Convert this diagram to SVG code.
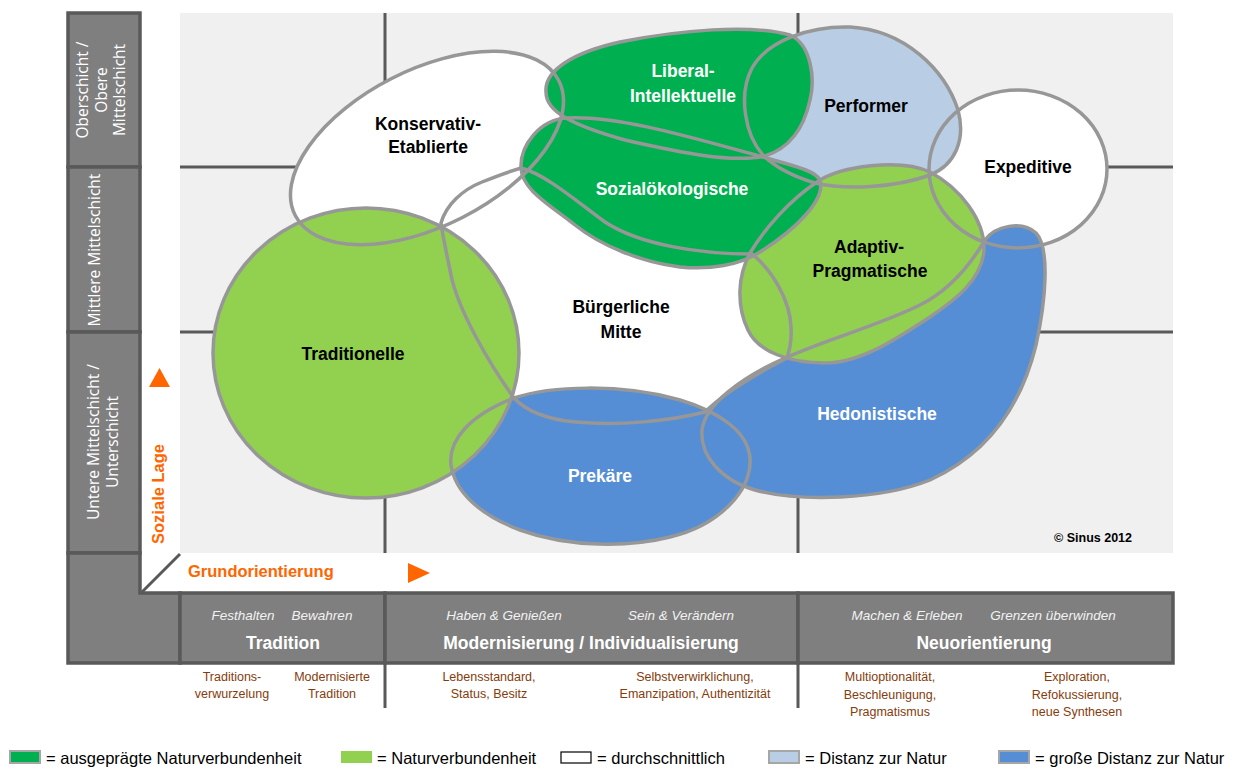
<svg xmlns="http://www.w3.org/2000/svg" width="1235" height="769" viewBox="0 0 1235 769">
<style>
.plot{fill:#f0f0f0}
.grid{stroke:#595959;stroke-width:3;fill:none}
.box{fill:#7f7f7f;stroke:#595959;stroke-width:3.5}
.ol{fill:none;stroke:#979797;stroke-width:3.5}
.dg{fill:#00b050}.lgr{fill:#92d050}.wh{fill:#ffffff}.lb{fill:#b9cde5}.bl{fill:#558ed5}
.lbl{font-family:"Liberation Sans",Arial,sans-serif;font-weight:bold;font-size:17.5px;text-anchor:middle}
.k{fill:#000}.w{fill:#fff}
.col{font-family:"Open Sans","Liberation Sans",sans-serif;font-size:15.5px;fill:#fff;text-anchor:middle}
.or{font-family:"Liberation Sans",Arial,sans-serif;font-weight:bold;font-size:16.5px;fill:#ff6600}
.it{font-family:"Liberation Sans",Arial,sans-serif;font-style:italic;font-size:13.5px;fill:#f2f2f2;text-anchor:middle}
.hd{font-family:"Liberation Sans",Arial,sans-serif;font-weight:bold;font-size:17.5px;fill:#fff;text-anchor:middle}
.br{font-family:"Liberation Sans",Arial,sans-serif;font-size:12.5px;fill:#843c0c;text-anchor:middle}
.lt{font-family:"Liberation Sans",Arial,sans-serif;font-size:16.5px;fill:#000}
.sw{stroke:#a6a6a6;stroke-width:2}
</style>
<defs>
<ellipse id="s-kon" cx="427" cy="148" rx="148" ry="78" transform="rotate(-27 427 148)"/>
<path id="s-bm" d="M441,223 C446,205 462,190 482,182 C497,176 511,171 521,168 C545,174 575,200 605,222 C640,245 700,254 752,254 C772,270 790,300 791,327 C792,342 789,352 787,358 C760,372 725,392 705,412 C670,421 620,426 575,422 C545,419 525,410 514,398 C490,365 458,310 451,275 C447,255 443,238 441,223 Z"/>
<ellipse id="s-exp" cx="1018" cy="169" rx="89" ry="79"/>
<path id="s-perf" d="M763,155 C745,135 738,95 752,68 C768,40 810,26 850,27 C905,30 945,70 958,110 C966,140 955,165 930,175 C895,188 845,190 815,183 C795,177 775,167 763,155 Z"/>
<path id="s-prek" d="M514,398 C550,386 620,383 680,400 C720,412 748,432 750,458 C752,490 720,525 670,537 C630,547 570,548 520,530 C480,515 455,492 451,465 C448,440 470,415 514,398 Z"/>
<path id="s-hed" d="M985,240 C995,226 1022,220 1036,233 C1050,248 1046,300 1036,345 C1020,410 985,455 930,480 C880,500 800,502 755,490 C720,480 700,455 702,430 C705,405 740,378 785,358 C830,338 880,325 920,305 C950,290 972,262 985,240 Z"/>
<path id="s-adp" d="M817,182 C840,166 900,158 930,172 C960,188 985,220 984,250 C982,280 955,300 930,317 C895,340 860,363 825,363 C790,363 758,352 748,330 C736,305 738,275 750,253 C765,228 790,200 817,182 Z"/>
<path id="s-soz" d="M521,168 C520,145 540,120 566,118 C620,115 700,140 763,157 C790,165 815,170 820,180 C826,200 795,230 760,252 C740,265 710,270 680,267 C640,262 600,245 575,225 C550,205 522,190 521,168 Z"/>
<path id="s-lib" d="M546,92 C544,70 575,52 620,42 C680,30 750,24 790,35 C812,45 815,80 810,100 C804,128 790,148 765,156 C730,164 670,150 625,140 C600,133 580,126 566,118 C552,110 546,102 546,92 Z"/>
<ellipse id="s-trad" cx="366" cy="353" rx="153" ry="145"/>
</defs>

<g id="frame">
<rect class="plot" x="180" y="13" width="993" height="540"/>
<path class="grid" d="M385,13 V553 M798,13 V553 M180,167 H1173 M180,332 H1173"/>
<rect class="box" x="68" y="13" width="72" height="154"/>
<rect class="box" x="68" y="167" width="72" height="165"/>
<rect class="box" x="68" y="332" width="72" height="221"/>
<polygon class="box" points="68,553 140,553 140,593 180,593 180,663 68,663"/>
<rect class="box" x="180" y="593" width="205" height="70"/>
<rect class="box" x="385" y="593" width="413" height="70"/>
<rect class="box" x="798" y="593" width="375" height="70"/>
<path class="grid" d="M385,663 V708 M798,663 V708 M142,592 L180,554"/>
</g>

<g id="axis-left">
<text class="col" transform="translate(88,90) rotate(-90)"><tspan x="0" y="0">Oberschicht /</tspan><tspan x="0" y="18.5">Obere</tspan><tspan x="0" y="37">Mittelschicht</tspan></text>
<text class="col" transform="translate(100,250) rotate(-90)">Mittlere Mittelschicht</text>
<text class="col" transform="translate(99,442) rotate(-90)"><tspan x="0" y="0">Untere Mittelschicht /</tspan><tspan x="0" y="19">Unterschicht</tspan></text>
<text class="or" text-anchor="middle" transform="translate(164,494) rotate(-90)">Soziale Lage</text>
<polygon fill="#ff6600" points="159.5,368 149,387 170,387"/>
</g>

<g id="axis-bottom">
<text class="or" x="188" y="577">Grundorientierung</text>
<polygon fill="#ff6600" points="408,563 408,583 430,573"/>
<text class="it" x="243" y="620">Festhalten</text>
<text class="it" x="322" y="620">Bewahren</text>
<text class="hd" x="283" y="649">Tradition</text>
<text class="it" x="504" y="620">Haben &amp; Genießen</text>
<text class="it" x="681" y="620">Sein &amp; Verändern</text>
<text class="hd" x="591" y="649">Modernisierung / Individualisierung</text>
<text class="it" x="907" y="620">Machen &amp; Erleben</text>
<text class="it" x="1053" y="620">Grenzen überwinden</text>
<text class="hd" x="984" y="649">Neuorientierung</text>
<text class="br" x="232" y="681"><tspan x="232">Traditions-</tspan><tspan x="232" dy="17">verwurzelung</tspan></text>
<text class="br" x="332" y="681"><tspan x="332">Modernisierte</tspan><tspan x="332" dy="17">Tradition</tspan></text>
<text class="br" x="489" y="681"><tspan x="489">Lebensstandard,</tspan><tspan x="489" dy="17">Status, Besitz</tspan></text>
<text class="br" x="695" y="681"><tspan x="695">Selbstverwirklichung,</tspan><tspan x="695" dy="17">Emanzipation, Authentizität</tspan></text>
<text class="br" x="890" y="681"><tspan x="890">Multioptionalität,</tspan><tspan x="890" dy="17.5">Beschleunigung,</tspan><tspan x="890" dy="17.5">Pragmatismus</tspan></text>
<text class="br" x="1077" y="681"><tspan x="1077">Exploration,</tspan><tspan x="1077" dy="17.5">Refokussierung,</tspan><tspan x="1077" dy="17.5">neue Synthesen</tspan></text>
</g>

<g id="node-konservativ-etablierte"><use class="wh" href="#s-kon"/><text class="lbl k" x="428" y="130">Konservativ-</text><text class="lbl k" x="428" y="153">Etablierte</text></g>
<g id="node-buergerliche-mitte"><use class="wh" href="#s-bm"/><text class="lbl k" x="621" y="313">Bürgerliche</text><text class="lbl k" x="621" y="338">Mitte</text></g>
<g id="node-expeditive"><use class="wh" href="#s-exp"/><text class="lbl k" x="1028" y="173">Expeditive</text></g>
<g id="node-performer"><use class="lb" href="#s-perf"/><text class="lbl k" x="866" y="112">Performer</text></g>
<g id="node-prekaere"><use class="bl" href="#s-prek"/><text class="lbl w" x="600" y="482">Prekäre</text></g>
<g id="node-hedonistische"><use class="bl" href="#s-hed"/><text class="lbl w" x="877" y="420">Hedonistische</text></g>
<g id="node-adaptiv-pragmatische"><use class="lgr" href="#s-adp"/><text class="lbl k" x="869" y="253">Adaptiv-</text><text class="lbl k" x="870" y="277">Pragmatische</text></g>
<g id="node-sozialoekologische"><use class="dg" href="#s-soz"/><text class="lbl w" x="672" y="195">Sozialökologische</text></g>
<g id="node-liberal-intellektuelle"><use class="dg" href="#s-lib"/><text class="lbl w" x="683" y="77">Liberal-</text><text class="lbl w" x="683" y="102">Intellektuelle</text></g>
<g id="node-traditionelle"><use class="lgr" href="#s-trad"/><text class="lbl k" x="353" y="360">Traditionelle</text></g>

<g id="outlines">
<use class="ol" href="#s-kon"/>
<use class="ol" href="#s-bm"/>
<use class="ol" href="#s-exp"/>
<use class="ol" href="#s-perf"/>
<use class="ol" href="#s-prek"/>
<use class="ol" href="#s-hed"/>
<use class="ol" href="#s-adp"/>
<use class="ol" href="#s-soz"/>
<use class="ol" href="#s-lib"/>
<use class="ol" href="#s-trad"/>
</g>

<text id="copyright" x="1093" y="542" font-family="Liberation Sans, Arial, sans-serif" font-weight="bold" font-size="12.5" text-anchor="middle" fill="#000">© Sinus 2012</text>

<g id="legend">
<rect class="sw" x="10" y="751" width="30" height="12" fill="#00b050"/>
<text class="lt" x="46" y="764">= ausgeprägte Naturverbundenheit</text>
<rect x="341" y="751" width="31" height="12" fill="#92d050"/>
<text class="lt" x="377" y="764">= Naturverbundenheit</text>
<rect x="561" y="752" width="30" height="11" fill="#fff" stroke="#000" stroke-width="1.2"/>
<text class="lt" x="597" y="764">= durchschnittlich</text>
<rect class="sw" x="769" y="751" width="30" height="12" fill="#b9cde5"/>
<text class="lt" x="805" y="764">= Distanz zur Natur</text>
<rect class="sw" x="999" y="751" width="30" height="12" fill="#558ed5"/>
<text class="lt" x="1035" y="764">= große Distanz zur Natur</text>
</g>
</svg>
